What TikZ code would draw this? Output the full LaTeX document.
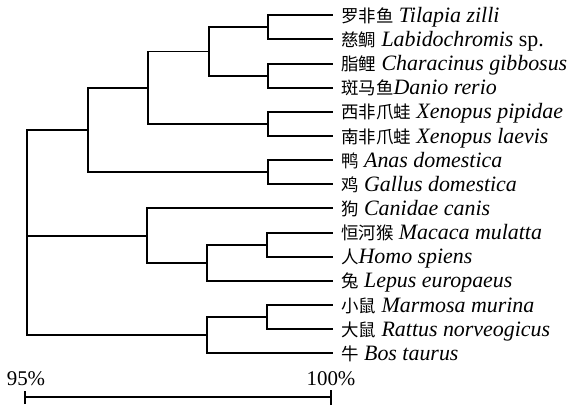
\documentclass[tikz,border=0pt]{standalone}
\usepackage{fontspec}
\setmainfont{Liberation Serif}
\newfontfamily\cjk{Noto Sans CJK SC}
\newcommand\zh[1]{{\cjk\fontsize{17.5}{20}\selectfont #1}}
\newcommand\la[1]{\textit{#1}}
\begin{document}
\begin{tikzpicture}[x=1bp,y=-1bp,
  branch/.style={line width=1.9bp, line cap=rect},
  lab/.style={anchor=west, inner xsep=0pt, inner ysep=0pt,
    text height=15bp, text depth=1bp,
    font=\fontsize{22}{24}\selectfont},
  pct/.style={anchor=base, inner sep=0pt, font=\fontsize{21}{24}\selectfont}]
\useasboundingbox (0,0) rectangle (573,405);
% leaf tips
\foreach \i/\y in {0/15.3,1/39.4,2/63.6,3/87.7,4/111.9,5/136.0,6/160.1,7/184.3,
  8/208.4,9/232.6,10/256.7,11/280.8,12/305.0,13/329.1,14/353.3}
  \coordinate (t\i) at (332,\y);
% internal nodes
\coordinate (a) at (268,27.4);
\coordinate (b) at (268,75.6);
\coordinate (c) at (268,124.0);
\coordinate (d) at (268,172.2);
\coordinate (e) at (209,51.5);
\coordinate (f) at (148,87.7);
\coordinate (g) at (88,130.0);
\coordinate (h) at (267,244.6);
\coordinate (i) at (207,262.7);
\coordinate (j) at (147,235.6);
\coordinate (k) at (267,317.0);
\coordinate (l) at (207,335.2);
\coordinate (root) at (27,232.6);
% species labels
\node[lab] (n0)  at ([xshift=9bp]t0)  {\zh{罗非鱼} \la{Tilapia zilli}};
\node[lab] (n1)  at ([xshift=9bp]t1)  {\zh{慈鲷} \la{Labidochromis} sp.};
\node[lab] (n2)  at ([xshift=9bp]t2)  {\zh{脂鲤} \la{Characinus gibbosus}};
\node[lab] (n3)  at ([xshift=9bp]t3)  {\zh{斑马鱼}\la{Danio rerio}};
\node[lab] (n4)  at ([xshift=9bp]t4)  {\zh{西非爪蛙} \la{Xenopus pipidae}};
\node[lab] (n5)  at ([xshift=9bp]t5)  {\zh{南非爪蛙} \la{Xenopus laevis}};
\node[lab] (n6)  at ([xshift=9bp]t6)  {\zh{鸭} \la{Anas domestica}};
\node[lab] (n7)  at ([xshift=9bp]t7)  {\zh{鸡} \la{Gallus domestica}};
\node[lab] (n8)  at ([xshift=9bp]t8)  {\zh{狗} \la{Canidae canis}};
\node[lab] (n9)  at ([xshift=9bp]t9)  {\zh{恒河猴} \la{Macaca mulatta}};
\node[lab] (n10) at ([xshift=9bp]t10) {\zh{人}\la{Homo spiens}};
\node[lab] (n11) at ([xshift=9bp]t11) {\zh{兔} \la{Lepus europaeus}};
\node[lab] (n12) at ([xshift=9bp]t12) {\zh{小鼠} \la{Marmosa murina}};
\node[lab] (n13) at ([xshift=9bp]t13) {\zh{大鼠} \la{Rattus norveogicus}};
\node[lab] (n14) at ([xshift=9bp]t14) {\zh{牛} \la{Bos taurus}};
% branches
\draw[branch] (a) |- (t0) (a) |- (t1);
\draw[branch] (b) |- (t2) (b) |- (t3);
\draw[branch] (c) |- (t4) (c) |- (t5);
\draw[branch] (d) |- (t6) (d) |- (t7);
\draw[branch] (e) |- (a) (e) |- (b);
\draw[branch] (f) |- (e) (f) |- (c);
\draw[branch] (g) |- (f) (g) |- (d);
\draw[branch] (h) |- (t9) (h) |- (t10);
\draw[branch] (i) |- (h) (i) |- (t11);
\draw[branch] (j) |- (t8) (j) |- (i);
\draw[branch] (k) |- (t12) (k) |- (t13);
\draw[branch] (l) |- (k) (l) |- (t14);
\draw[branch] (root) |- (g) (root) |- (j) (root) |- (l);
% scale bar
\coordinate (s0) at (25,397);
\coordinate (s1) at (331,397);
\draw[branch, line cap=butt] (s0) -- (s1);
\draw[branch, line cap=butt] ([yshift=-7bp]s0) -- ([yshift=6bp]s0);
\draw[branch, line cap=butt] ([yshift=-8bp]s1) -- ([yshift=7bp]s1);
\node[pct] (p0) at (26,385) {95\%};
\node[pct] (p1) at (331,385) {100\%};
\end{tikzpicture}
\end{document}
